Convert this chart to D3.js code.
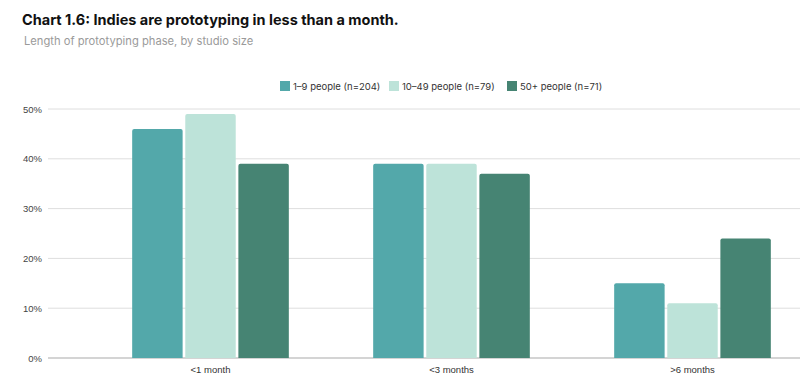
<!DOCTYPE html>
<html><head><meta charset="utf-8">
<script src="https://cdn.jsdelivr.net/npm/d3@7"></script>
<style>body{margin:0;background:#fff}svg{display:block}</style>
</head><body><svg id="c" width="800" height="392"></svg>
<script>
const categories = ["<1 month", "<3 months", ">6 months"];
const seriesNames = ["1–9 people (n=204)", "10–49 people (n=79)", "50+ people (n=71)"];
const series1 = [46, 39, 15];
const series2 = [49, 39, 11];
const series3 = [39, 37, 24];
const yTicks = [0, 10, 20, 30, 40, 50];
const colors = ["#53a8aa", "#bde3d9", "#468473"];

const allSeries = [series1, series2, series3];
const svg = d3.select("#c");
svg.append("text").attr("x", 22).attr("y", 25).attr("font-family", "Inter, sans-serif")
  .attr("font-weight", 700).attr("font-size", 14.5).attr("fill", "#111")
  .text("Chart 1.6: Indies are prototyping in less than a month.");
svg.append("text").attr("x", 24).attr("y", 45).attr("font-family", "Inter, sans-serif")
  .attr("font-size", 11.2).attr("fill", "#9a9a9a").text("Length of prototyping phase, by studio size");

const y = d3.scaleLinear().domain([0, 50]).range([358, 109]);
const x0 = d3.scaleBand().domain(categories).range([90, 813]).paddingInner(0.35).paddingOuter(0.175);
const x1 = d3.scaleBand().domain([0,1,2]).range([0, x0.bandwidth()]).paddingInner(0.05);

const g = svg.append("g");
g.selectAll(".grid").data(yTicks).join("line")
  .attr("x1", 48).attr("x2", 800).attr("y1", d => y(d)).attr("y2", d => y(d))
  .attr("stroke", d => d === 0 ? "#aaa" : "#dedede").attr("stroke-width", d => d === 0 ? 1.2 : 1);
g.selectAll(".yl").data(yTicks).join("text")
  .attr("x", 42).attr("y", d => y(d) + 3.5).attr("text-anchor", "end")
  .attr("font-family", "Liberation Sans, Arial, sans-serif").attr("font-size", 9.5).attr("fill", "#444")
  .text(d => d + "%");

categories.forEach((c, i) => {
  allSeries.forEach((s, j) => {
    const bx = x0(c) + x1(j), bw = x1.bandwidth(), top = y(s[i]), bot = y(0);
    const r = 2;
    g.append("path").attr("fill", colors[j])
      .attr("d", `M${bx},${bot}V${top + r}Q${bx},${top} ${bx + r},${top}H${bx + bw - r}Q${bx + bw},${top} ${bx + bw},${top + r}V${bot}Z`);
  });
  g.append("text").attr("x", x0(c) + x0.bandwidth() / 2).attr("y", 373).attr("text-anchor", "middle")
    .attr("font-family", "Liberation Sans, Arial, sans-serif").attr("font-size", 9.5).attr("fill", "#333").text(c);
});

const legX = [280, 389, 507];
seriesNames.forEach((n, j) => {
  svg.append("rect").attr("x", legX[j]).attr("y", 81).attr("width", 10).attr("height", 10).attr("fill", colors[j]);
  svg.append("text").attr("x", legX[j] + 13).attr("y", 89.5).attr("font-family", "Inter, sans-serif")
    .attr("font-size", 9.5).attr("fill", "#333").text(n);
});
</script></body></html>
